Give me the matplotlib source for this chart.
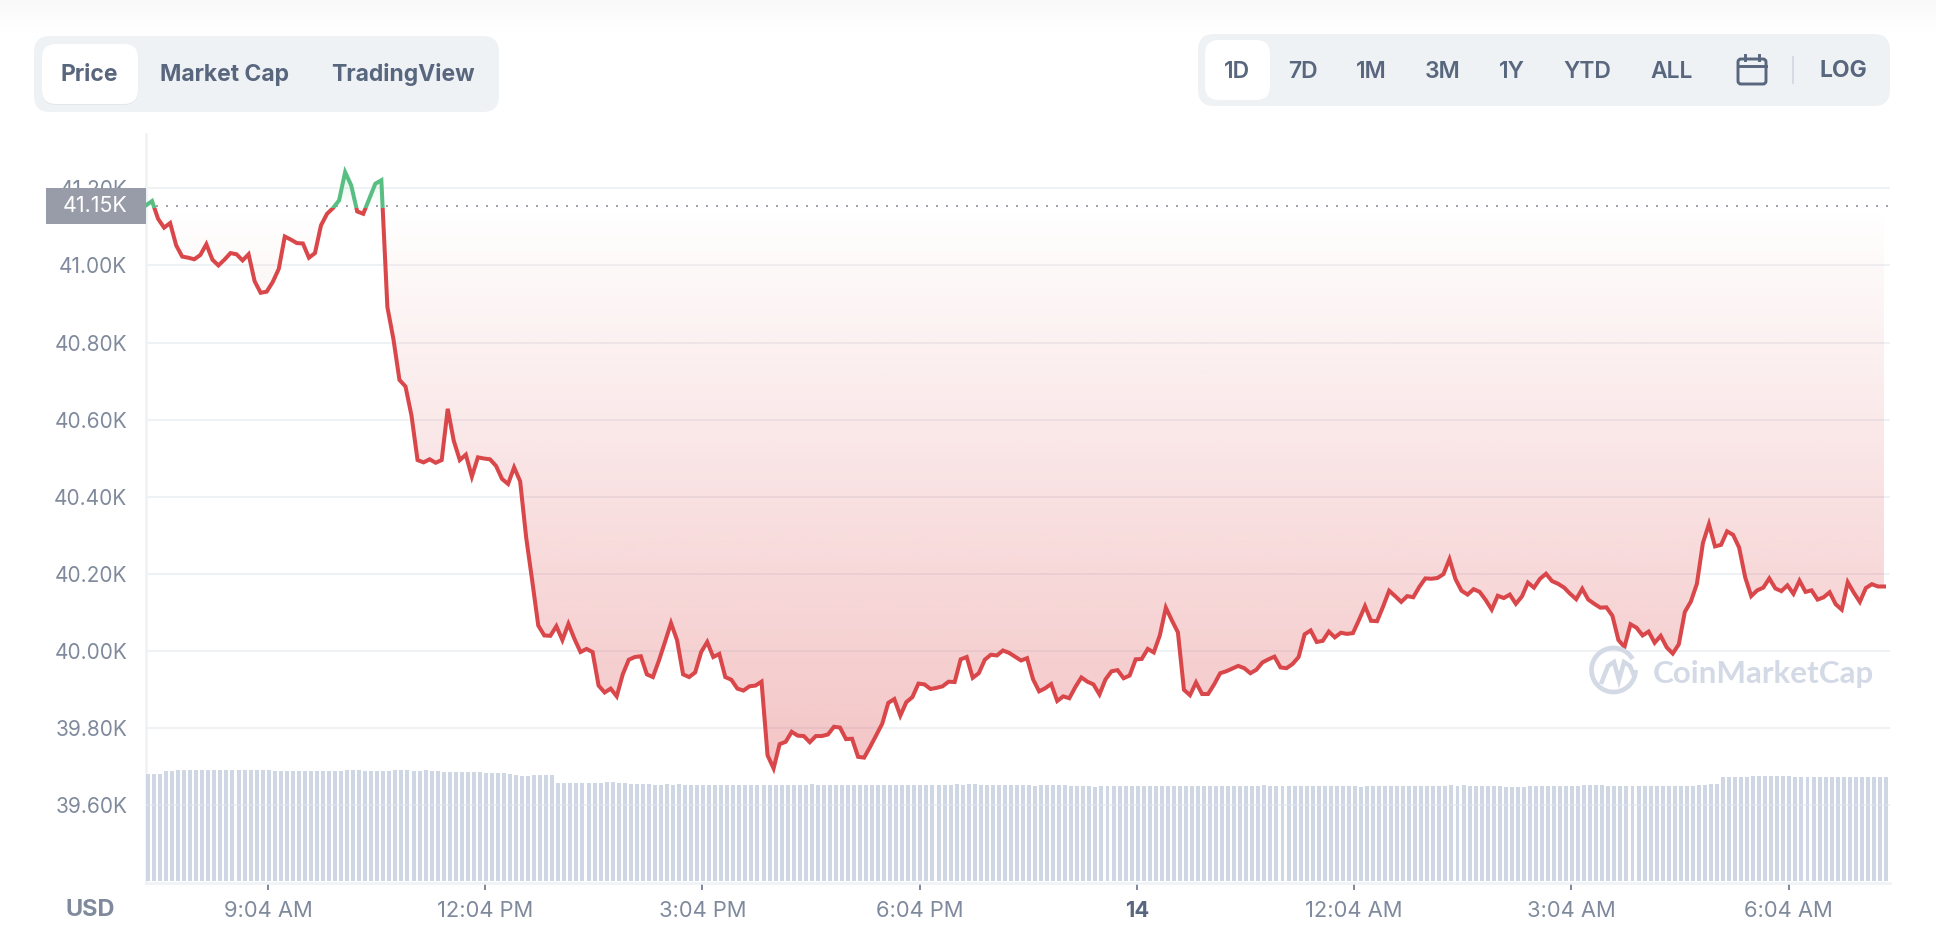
import numpy as np
import matplotlib
matplotlib.use("Agg")
import matplotlib.pyplot as plt
from matplotlib.patches import FancyBboxPatch, Rectangle, Arc
from matplotlib.path import Path
from matplotlib.patches import PathPatch

plt.rcParams['font.family'] = ['Inter', 'DejaVu Sans']

# ---------- data ----------
price = [
41156,41167,41121,41098,41110,41052,41023,41020,41016,41027,41055,41015,41000,41015,41032,41029,41013,41029,40959,40929,
40932,40957,40991,41075,41067,41058,41057,41020,41032,41104,41134,41149,41169,41242,41208,41140,41134,41173,41212,41221,
40892,40809,40703,40686,40610,40495,40489,40497,40488,40495,40628,40545,40495,40509,40452,40502,40499,40497,40480,40446,
40433,40476,40440,40294,40182,40066,40040,40039,40064,40028,40070,40031,39997,40005,39997,39910,39892,39902,39882,39939,
39977,39984,39986,39939,39932,39975,40023,40072,40028,39939,39932,39944,39997,40023,39984,39992,39932,39925,39902,39897,
39908,39910,39920,39729,39695,39758,39764,39790,39780,39779,39763,39779,39779,39783,39803,39801,39771,39772,39725,39723,
39751,39781,39811,39865,39875,39832,39867,39880,39915,39913,39901,39904,39908,39920,39919,39978,39984,39930,39942,39977,
39990,39988,40001,39995,39985,39975,39981,39926,39895,39903,39914,39870,39882,39877,39906,39931,39920,39913,39887,39926,
39947,39950,39929,39936,39978,39979,40005,39996,40040,40112,40079,40048,39899,39885,39918,39888,39888,39913,39942,39947,
39954,39961,39955,39942,39951,39970,39978,39985,39957,39955,39966,39984,40043,40053,40023,40026,40050,40035,40047,40044,
40046,40080,40116,40078,40077,40115,40156,40142,40127,40142,40139,40166,40188,40187,40189,40199,40238,40186,40156,40146,
40160,40153,40132,40107,40143,40137,40146,40122,40141,40177,40164,40187,40200,40181,40174,40164,40148,40134,40161,40133,
40122,40112,40113,40091,40028,40010,40069,40060,40040,40050,40021,40039,40009,39993,40017,40101,40128,40174,40280,40329,
40271,40275,40310,40301,40268,40191,40142,40157,40164,40188,40162,40155,40170,40148,40182,40153,40157,40133,40139,40152,
40121,40107,40178,40151,40127,40163,40173,40167,40167,
]
volume = [
107,107,107,110,110,111,111,111,111,111,111,111,111,111,111,111,111,111,111,111,
111,110,110,110,110,110,110,110,110,110,110,110,110,111,111,111,110,110,110,110,
110,111,111,111,110,110,111,110,110,109,109,109,109,109,109,109,108,108,108,108,
107,106,105,105,106,106,106,106,98,98,98,98,98,98,98,98,99,99,98,98,
97,97,97,97,96,96,97,96,97,96,96,96,96,96,96,96,96,96,96,96,
96,96,96,96,96,96,96,96,96,96,97,96,96,96,96,96,96,96,96,96,
96,96,96,96,96,96,96,96,96,96,96,96,96,96,97,96,97,97,96,96,
96,96,96,96,96,96,96,95,96,96,96,96,96,95,95,95,95,94,95,95,
95,95,95,95,95,95,95,95,95,95,95,95,95,95,95,95,95,95,95,95,
95,95,95,95,95,96,95,95,95,95,95,95,95,95,95,95,95,95,95,95,
95,94,95,95,95,95,95,95,95,95,95,95,95,95,95,95,96,95,96,95,
95,95,95,95,95,94,94,94,94,95,95,95,95,95,95,95,95,95,96,96,
96,96,95,95,95,95,95,95,95,95,95,95,95,95,95,95,95,96,96,97,
97,104,104,104,104,104,105,105,105,105,105,105,105,104,104,104,104,104,104,104,
104,104,104,104,104,104,104,104,104,
]
open_price = 41155
minutes = np.arange(len(price)) * 5           # five-minute samples from 7:23 AM
y_ticks = [39600, 39800, 40000, 40200, 40400, 40600, 40800, 41000, 41200]
y_labels = ['39.60K', '39.80K', '40.00K', '40.20K', '40.40K', '40.60K', '40.80K', '41.00K', '41.20K']
x_ticks = [101, 281, 461, 641, 821, 1001, 1181, 1361]
x_labels = ['9:04 AM', '12:04 PM', '3:04 PM', '6:04 PM', '14', '12:04 AM', '3:04 AM', '6:04 AM']
tabs_left = ['Price', 'Market Cap', 'TradingView']
tabs_right = ['1D', '7D', '1M', '3M', '1Y', 'YTD', 'ALL']

# ---------- colours ----------
GRID = '#EFF2F5'
TICK = '#808A9D'
BTN = '#58667E'
RED = '#D9474A'
GREEN = '#58BE82'
BAR = '#CFD6E4'
MARK = '#D3DAE6'

W, H = 1936, 932
fig = plt.figure(figsize=(W / 100, H / 100), dpi=100, facecolor='white')
L, R, T, B = 146, 1890, 134, 882.5
rect = [L / W, 1 - B / H, (R - L) / W, (B - T) / H]
ax = fig.add_axes(rect, facecolor='none')
ax_vol = fig.add_axes(rect, facecolor='none', zorder=2)
ui = fig.add_axes([0, 0, 1, 1], facecolor='none', zorder=5)

YMIN, YMAX = 39399, 41341
XMAX = 1445
price = np.array(price, float)

# grid and ticks
ax.set_xlim(0, XMAX)
ax.set_ylim(YMIN, YMAX)
ax.yaxis.grid(True, color=GRID, lw=1.44, zorder=0)
ax.set_axisbelow(True)
ax.xaxis.grid(False)
for s in ('top', 'right'):
    ax.spines[s].set_visible(False)
for s in ('left', 'bottom'):
    ax.spines[s].set_color(GRID)
    ax.spines[s].set_linewidth(1.8)
ax.set_yticks(y_ticks, y_labels)
ax.set_xticks(x_ticks, x_labels)
ax.tick_params(axis='y', length=0, pad=13.5, labelsize=15, labelcolor=TICK)
ax.tick_params(axis='x', length=5, width=1.44, color=TICK, pad=8.5, labelsize=15.8, labelcolor=TICK)
for lab in ax.get_xticklabels():
    if lab.get_text() == '14':
        lab.set_fontweight('bold')
        lab.set_color(BTN)


def gradient(a_low, a_high, colour, y0, y1, poly):
    rgb = matplotlib.colors.to_rgb(colour)
    n = 256
    img = np.zeros((n, 1, 4))
    img[..., :3] = rgb
    img[:, 0, 3] = np.linspace(a_low, a_high, n)
    im = ax.imshow(img, extent=[0, XMAX, y0, y1], origin='lower', aspect='auto',
                   interpolation='bilinear', zorder=1.5)
    paths = poly.get_paths()
    im.set_clip_path(Path.make_compound_path(*paths), transform=ax.transData)
    poly.remove()


poly_r = ax.fill_between(minutes, price, open_price, where=price <= open_price, interpolate=True, facecolor='none')
gradient(0.30, 0.0, '#D93A3E', 39680, open_price, poly_r)
poly_g = ax.fill_between(minutes, price, open_price, where=price >= open_price, interpolate=True, facecolor='none')
gradient(0.0, 0.16, '#3CC078', open_price, 41245, poly_g)
ax.set_xlim(0, XMAX)
ax.set_ylim(YMIN, YMAX)

# baseline
ax.plot([0, XMAX], [open_price, open_price], color='#9DA2AD', lw=1.44, dashes=(1, 4), zorder=2)

# price line, coloured either side of the opening price
l_r, = ax.plot(minutes, price, color=RED, lw=2.9, solid_joinstyle='miter', zorder=3, clip_on=True)
l_g, = ax.plot(minutes, price, color=GREEN, lw=2.9, solid_joinstyle='miter', zorder=3, clip_on=True)
l_r.set_clip_path(Rectangle((0, YMIN), XMAX, open_price - YMIN - 6, transform=ax.transData))
l_g.set_clip_path(Rectangle((-10, open_price - 6), XMAX + 10, YMAX - open_price, transform=ax.transData))

# volume
ax_vol.set_xlim(0, XMAX)
ax_vol.set_ylim(-1.5, B - T - 1.5)
ax_vol.axis('off')
ax_vol.bar(minutes, volume, width=3.3, align='edge', color=BAR, linewidth=0, zorder=1)
ax_vol.axhline(881 - 805, color=GRID, lw=1.44, alpha=0.3, zorder=2)

# ---------- page furniture, in pixel coordinates ----------
ui.set_xlim(0, W)
ui.set_ylim(H, 0)
ui.axis('off')

top = np.linspace(0, 1, 40)[:, None]
ui.imshow(np.dstack([np.full_like(top, 0.97)] * 3 + [0.7 * (1 - top)]), extent=[0, W, 34, 0], aspect='auto', zorder=0)
ui.set_xlim(0, W)
ui.set_ylim(H, 0)


def pill(x0, y0, x1, y1, r, colour, z=1):
    ui.add_patch(FancyBboxPatch((x0, y0), x1 - x0, y1 - y0, boxstyle=f'round,pad=0,rounding_size={r}',
                                facecolor=colour, edgecolor='none', zorder=z))


pill(34, 36, 499, 112, 16, GRID)
pill(42, 46, 138, 105, 14, '#E3E6EC', 2)
pill(42, 44, 138, 104, 14, 'white', 3)
pill(1198, 34, 1890, 106, 16, GRID)
pill(1205, 40, 1270, 100, 14, 'white', 3)

for label, cx in zip(tabs_left, [89, 225, 402.5]):
    ui.text(cx, 75, label, ha='center', va='center', fontsize=16.5, fontweight='bold', color=BTN, zorder=4)
for label, cx in zip(tabs_right, [1237, 1303, 1371, 1443, 1512, 1587, 1672]):
    ui.text(cx, 72, label, ha='center', va='center', fontsize=16.5, fontweight='semibold', color=BTN, zorder=4)
ui.text(1843, 71, 'LOG', ha='center', va='center', fontsize=16.5, fontweight='bold', color=BTN, zorder=4)
ui.plot([1793, 1793], [57, 83], color=BAR, lw=1.2, zorder=4)

# calendar icon
ui.add_patch(FancyBboxPatch((1738, 59), 28, 25, boxstyle='round,pad=0,rounding_size=3',
                            facecolor='none', edgecolor=BTN, lw=2.1, zorder=4))
ui.plot([1738, 1766], [66, 66], color=BTN, lw=2.1, zorder=4)
ui.plot([1745, 1745], [55, 60], color=BTN, lw=2.1, zorder=4)
ui.plot([1759, 1759], [55, 60], color=BTN, lw=2.1, zorder=4)

# current-price tag
ui.add_patch(Rectangle((46, 188), 100, 36, facecolor='#989CA8', edgecolor='none', zorder=4))
ui.text(95, 206, '41.15K', ha='center', va='center', fontsize=15.4, color='white', zorder=5)

# USD label
ui.text(90, 910, 'USD', ha='center', va='center', fontsize=17, fontweight='bold', color=TICK, zorder=4)

# watermark
ui.add_patch(Arc((1613.5, 670), 44, 44, theta1=0, theta2=330, edgecolor=MARK, lw=3.4, zorder=4))
mx = [1601, 1608, 1614, 1619, 1624, 1630, 1635]
my = [684, 666, 662, 680, 662, 666, 678]
ui.add_patch(PathPatch(Path(list(zip(mx, my))), facecolor='none', edgecolor=MARK, lw=3.2, zorder=4))
ui.text(1653, 674, 'CoinMarketCap', ha='left', va='center', fontsize=22.6, fontweight='bold',
        color=MARK, family=['Lato', 'DejaVu Sans'], zorder=4)

fig.savefig('out.png', dpi=100, facecolor='white')
